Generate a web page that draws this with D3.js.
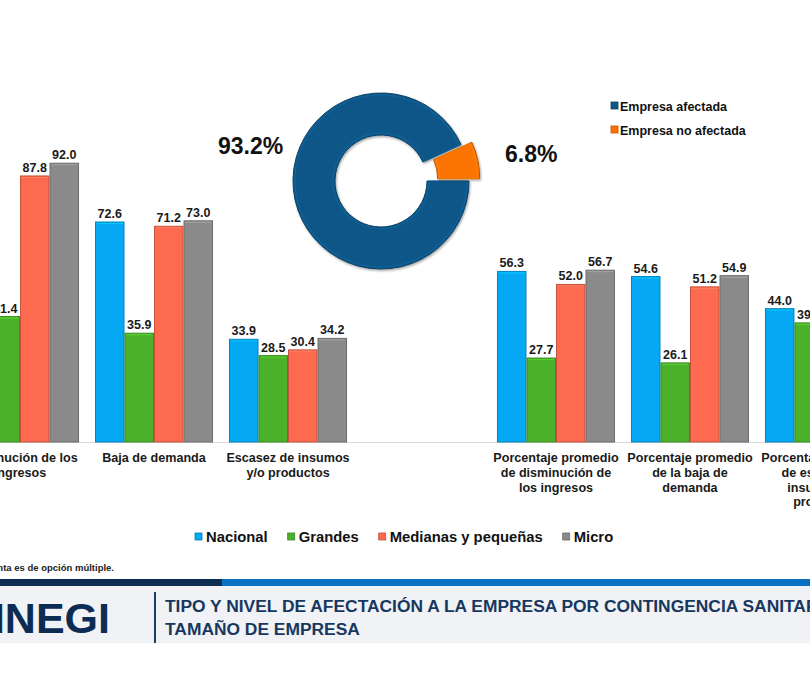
<!DOCTYPE html>
<html>
<head>
<meta charset="utf-8">
<script src="https://cdn.jsdelivr.net/npm/d3@7"></script>
<style>
    html, body { margin: 0; padding: 0; background: #ffffff; }
    svg { display: block; font-family: "Liberation Sans", Arial, sans-serif; }
</style>
</head>
<body>
<div id="chart"></div>
<script>
// Bar chart data (slot 4 is the empty gap between the two blocks)
const categories = [
    'Disminución de los ingresos',
    'Baja de demanda',
    'Escasez de insumos y/o productos',
    '',
    'Porcentaje promedio de disminución de los ingresos',
    'Porcentaje promedio de la baja de demanda',
    'Porcentaje promedio de escasez de insumos y/o productos'
];
const categoryLines = [
    ['Disminución de los', 'ingresos'],
    ['Baja de demanda'],
    ['Escasez de insumos', 'y/o productos'],
    [],
    ['Porcentaje promedio', 'de disminución de', 'los ingresos'],
    ['Porcentaje promedio', 'de la baja de', 'demanda'],
    ['Porcentaje promedio', 'de escasez de', 'insumos y/o', 'productos']
];
const seriesNames = ['Nacional', 'Grandes', 'Medianas y pequeñas', 'Micro'];
const nacional = [91.3, 72.6, 33.9, null, 56.3, 54.6, 44.0];
const grandes  = [41.4, 35.9, 28.5, null, 27.7, 26.1, 39.3];
const medianas = [87.8, 71.2, 30.4, null, 52.0, 51.2, null];
const micro    = [92.0, 73.0, 34.2, null, 56.7, 54.9, null];
const seriesColors = ['#05a8f2', '#4bb12a', '#fe6a50', '#8a8a8a'];

// Donut data
const pieLabels = ['Empresa afectada', 'Empresa no afectada'];
const pieValues = [93.2, 6.8];
const pieColors = ['#0d5787', '#fb7304'];

// Header text
const titleLines = [
    'TIPO Y NIVEL DE AFECTACIÓN A LA EMPRESA POR CONTINGENCIA SANITARIA POR',
    'TAMAÑO DE EMPRESA'
];
const footnote = 'Nota: La pregunta es de opción múltiple.';

const W = 810, H = 675;
const baseY = 442;

const svg = d3.select('#chart').append('svg')
    .attr('width', W)
    .attr('height', H);

svg.append('rect').attr('width', W).attr('height', H).attr('fill', '#ffffff');

// Scales
const x = d3.scaleBand()
    .domain(categories)
    .range([-39, 883])
    .paddingInner(0.119);

const xs = d3.scaleBand()
    .domain(seriesNames)
    .range([0, x.bandwidth()]);

const y = d3.scaleLinear()
    .domain([0, 100])
    .range([baseY, baseY - 303]);

const allSeries = [nacional, grandes, medianas, micro];
const barData = [];
categories.forEach((c, i) => {
    seriesNames.forEach((s, j) => {
        const v = allSeries[j][i];
        if (v != null) barData.push({ cat: c, series: s, value: v, color: seriesColors[j] });
    });
});

// Baseline
svg.append('line')
    .attr('x1', 0).attr('x2', W)
    .attr('y1', baseY + 0.5).attr('y2', baseY + 0.5)
    .attr('stroke', '#d9d9d9')
    .attr('stroke-width', 1);

// Bars
const bars = svg.append('g');
bars.selectAll('rect')
    .data(barData)
    .enter().append('rect')
    .attr('x', d => x(d.cat) + xs(d.series) + 0.5)
    .attr('width', xs.bandwidth() - 1)
    .attr('y', d => y(d.value))
    .attr('height', d => baseY - y(d.value))
    .attr('fill', d => d.color)
    .attr('stroke', d => d3.color(d.color).darker(0.7))
    .attr('stroke-width', 1);

// Light top edge on each bar
bars.selectAll('line')
    .data(barData)
    .enter().append('line')
    .attr('x1', d => x(d.cat) + xs(d.series) + 1.5)
    .attr('x2', d => x(d.cat) + xs(d.series) + xs.bandwidth() - 1.5)
    .attr('y1', d => y(d.value) + 1.5)
    .attr('y2', d => y(d.value) + 1.5)
    .attr('stroke', d => d3.color(d.color).brighter(0.5))
    .attr('stroke-width', 1);

// Value labels
svg.append('g').selectAll('text')
    .data(barData)
    .enter().append('text')
    .attr('x', d => x(d.cat) + xs(d.series) + xs.bandwidth() / 2)
    .attr('y', d => y(d.value) - 4)
    .attr('text-anchor', 'middle')
    .attr('font-size', 12.5)
    .attr('font-weight', 'bold')
    .attr('fill', '#1a1a1a')
    .text(d => d.value.toFixed(1));

// Category labels
const catG = svg.append('g');
categories.forEach((c, i) => {
    const t = catG.append('text')
        .attr('x', x(c) + x.bandwidth() / 2)
        .attr('y', baseY + 20)
        .attr('text-anchor', 'middle')
        .attr('font-size', 12.6)
        .attr('font-weight', 'bold')
        .attr('fill', '#1a1a1a');
    categoryLines[i].forEach((line, k) => {
        t.append('tspan')
            .attr('x', x(c) + x.bandwidth() / 2)
            .attr('dy', k === 0 ? 0 : 14.8)
            .text(line);
    });
});

// Bar legend
const legend = svg.append('g').attr('transform', 'translate(195,537)');
let lx = 0;
seriesNames.forEach((s, i) => {
    const item = legend.append('g').attr('transform', `translate(${lx},0)`);
    item.append('rect')
        .attr('x', 0).attr('y', -4)
        .attr('width', 7).attr('height', 7)
        .attr('fill', seriesColors[i])
        .attr('stroke', d3.color(seriesColors[i]).darker(0.8))
        .attr('stroke-width', 0.8);
    const t = item.append('text')
        .attr('x', 11).attr('y', 5)
        .attr('font-size', 14.8)
        .attr('font-weight', 'bold')
        .attr('fill', '#111')
        .text(s);
    lx += 11 + t.node().getComputedTextLength() + 20;
});

// Footnote
svg.append('text')
    .attr('x', 114).attr('y', 571)
    .attr('text-anchor', 'end')
    .attr('font-size', 9.5)
    .attr('font-weight', 'bold')
    .attr('fill', '#222')
    .text(footnote);

// Donut
const cx = 381, cy = 181, rIn = 46, rOut = 88, explode = 11;
const pie = d3.pie().sort(null)
    .startAngle(Math.PI / 2)
    .endAngle(Math.PI / 2 + 2 * Math.PI);
const arc = d3.arc().innerRadius(rIn).outerRadius(rOut);
const arcs = pie(pieValues);

const defs = svg.append('defs');
const shadow = defs.append('filter').attr('id', 'shadow')
    .attr('x', '-20%').attr('y', '-20%').attr('width', '140%').attr('height', '140%');
shadow.append('feDropShadow')
    .attr('dx', 1).attr('dy', 1.5).attr('stdDeviation', 1.2)
    .attr('flood-color', '#000').attr('flood-opacity', 0.35);

const donut = svg.append('g').attr('transform', `translate(${cx},${cy})`);
arcs.forEach((a, i) => {
    const mid = (a.startAngle + a.endAngle) / 2;
    const off = i === 1 ? explode : 0;
    const g = donut.append('g')
        .attr('transform', `translate(${off * Math.sin(mid)},${-off * Math.cos(mid)})`);
    g.append('path')
        .attr('d', arc(a))
        .attr('fill', pieColors[i])
        .attr('stroke', d3.color(pieColors[i]).darker(0.8))
        .attr('stroke-width', 1)
        .attr('filter', 'url(#shadow)');
    // bevel highlight
    g.append('path')
        .attr('d', d3.arc().innerRadius(rIn + 2).outerRadius(rOut - 2)(a))
        .attr('fill', 'none')
        .attr('stroke', d3.color(pieColors[i]).brighter(0.6))
        .attr('stroke-opacity', 0.6)
        .attr('stroke-width', 1.2);
});

// Donut value labels
svg.append('text')
    .attr('x', 218).attr('y', 154)
    .attr('font-size', 23).attr('font-weight', 'bold').attr('fill', '#111')
    .text(pieValues[0].toFixed(1) + '%');
svg.append('text')
    .attr('x', 505).attr('y', 162)
    .attr('font-size', 23).attr('font-weight', 'bold').attr('fill', '#111')
    .text(pieValues[1].toFixed(1) + '%');

// Donut legend
const pieLegend = svg.append('g').attr('transform', 'translate(611,106)');
pieLabels.forEach((l, i) => {
    const g = pieLegend.append('g').attr('transform', `translate(0,${i * 24})`);
    g.append('rect')
        .attr('x', 0).attr('y', -4)
        .attr('width', 7).attr('height', 7)
        .attr('fill', pieColors[i])
        .attr('stroke', d3.color(pieColors[i]).darker(0.8))
        .attr('stroke-width', 0.8);
    g.append('text')
        .attr('x', 9).attr('y', 4.5)
        .attr('font-size', 12.5)
        .attr('font-weight', 'bold')
        .attr('fill', '#111')
        .text(l);
});

// Header band
svg.append('rect').attr('x', 0).attr('y', 579).attr('width', 222).attr('height', 7).attr('fill', '#0b2d52');
svg.append('rect').attr('x', 222).attr('y', 579).attr('width', W - 222).attr('height', 7).attr('fill', '#0a72c4');
svg.append('rect').attr('x', 0).attr('y', 586).attr('width', W).attr('height', 57).attr('fill', '#f0f2f5');

svg.append('text')
    .attr('x', 110).attr('y', 633)
    .attr('text-anchor', 'end')
    .attr('font-size', 43)
    .attr('font-weight', 'bold')
    .attr('fill', '#0d2c54')
    .text('INEGI');

svg.append('line')
    .attr('x1', 155).attr('x2', 155)
    .attr('y1', 592).attr('y2', 643)
    .attr('stroke', '#1c3a63')
    .attr('stroke-width', 2);

titleLines.forEach((t, i) => {
    svg.append('text')
        .attr('x', 165).attr('y', 612 + i * 23)
        .attr('font-size', 17.4)
        .attr('font-weight', 'bold')
        .attr('fill', '#17375e')
        .text(t);
});
</script>
</body>
</html>
